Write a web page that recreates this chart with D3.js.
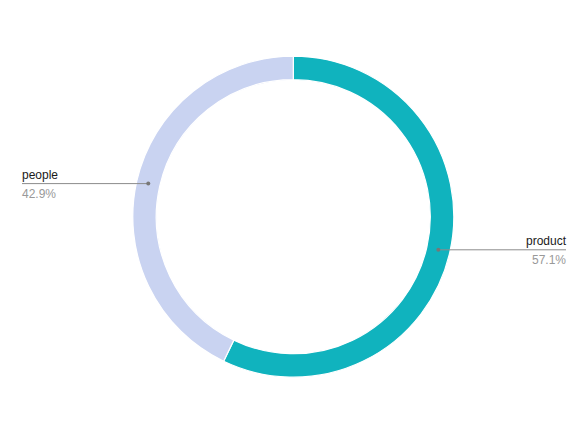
<!DOCTYPE html>
<html><head><meta charset="utf-8">
<script src="https://cdn.jsdelivr.net/npm/d3@7"></script>
<style>
html,body{margin:0;padding:0;background:#fff;}
svg{display:block;font-family:"Liberation Sans",Arial,sans-serif;}
</style></head>
<body>
<svg id="chart" width="586" height="433"></svg>
<script>
const categories = ["product", "people"];
const values = [4, 3];
const colors = ["#10b3be", "#c9d3f1"];

const W = 586, H = 433;
const cx = 293.3, cy = 216.7, outerR = 160.5, innerR = 137;
const labelR = (outerR + innerR) / 2;
const leftX = 22, rightX = 566;

const svg = d3.select("#chart");
const data = categories.map((c, i) => ({name: c, value: values[i], color: colors[i]}));
const total = d3.sum(values);

const pie = d3.pie().value(d => d.value).sort(null);
const arcs = pie(data);
const arc = d3.arc().innerRadius(innerR).outerRadius(outerR);

const g = svg.append("g").attr("transform", `translate(${cx},${cy})`);
g.selectAll("path.slice").data(arcs).join("path")
  .attr("class", "slice")
  .attr("d", arc)
  .attr("fill", d => d.data.color)
  .attr("stroke", "#fff")
  .attr("stroke-width", 1.2);

const fmt = d3.format(".1%");
arcs.forEach(a => {
  const mid = (a.startAngle + a.endAngle) / 2;
  const px = cx + Math.sin(mid) * labelR;
  const py = cy - Math.cos(mid) * labelR;
  const right = Math.sin(mid) > 0;
  const endX = right ? rightX : leftX;
  svg.append("line")
    .attr("x1", px).attr("y1", py).attr("x2", endX).attr("y2", py)
    .attr("stroke", "#8c8c8c").attr("stroke-width", 1);
  svg.append("circle").attr("cx", px).attr("cy", py).attr("r", 2)
    .attr("fill", "#777");
  svg.append("text")
    .attr("x", endX).attr("y", py - 5)
    .attr("text-anchor", right ? "end" : "start")
    .attr("font-size", 12).attr("fill", "#1a1a1a")
    .text(a.data.name);
  svg.append("text")
    .attr("x", endX).attr("y", py + 14)
    .attr("text-anchor", right ? "end" : "start")
    .attr("font-size", 12).attr("fill", "#999")
    .text(fmt(a.data.value / total));
});
</script>
</body></html>
